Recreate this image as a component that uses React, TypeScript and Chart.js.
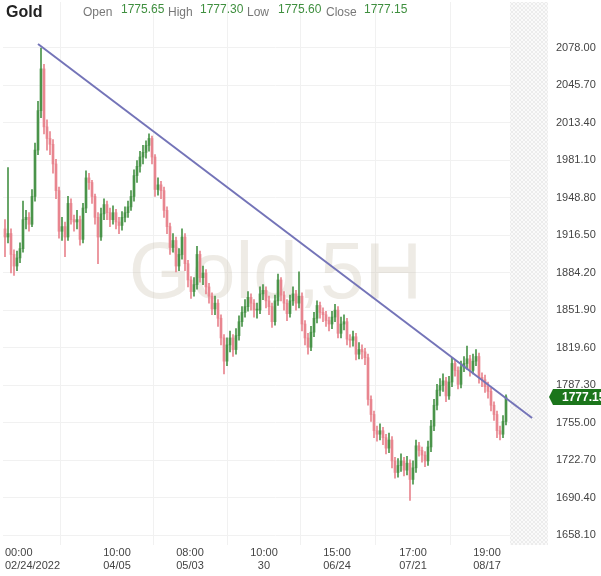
import React, { useEffect, useRef } from 'react';
import { Chart, registerables } from 'chart.js';

Chart.register(...registerables);

// ---- Data ----
const opens = [
  1922, 1915, 1918, 1900, 1890, 1897, 1905, 1930, 1932, 1926,
  1950, 1990, 2024, 2060, 2010, 2000, 1995, 1978, 1955, 1920,
  1924, 1915, 1944, 1930, 1928, 1930, 1913, 1940, 1966, 1962,
  1950, 1932, 1915, 1935, 1943, 1936, 1930, 1936, 1928, 1925,
  1932, 1936, 1941, 1950, 1968, 1976, 1984, 1988, 1994, 2000,
  1984, 1956, 1960, 1955, 1938, 1924, 1906, 1912, 1890, 1900,
  1915, 1892, 1878, 1868, 1874, 1900, 1880, 1884, 1872, 1864,
  1853, 1858, 1845, 1828, 1808, 1822, 1828, 1818, 1830, 1842,
  1850, 1855, 1863, 1858, 1852, 1852, 1866, 1869, 1860, 1855,
  1842, 1860, 1878, 1865, 1858, 1849, 1860, 1866, 1858, 1864,
  1840, 1828, 1820, 1833, 1845, 1856, 1850, 1848, 1843, 1840,
  1846, 1852, 1832, 1840, 1842, 1827, 1826, 1829, 1814, 1818,
  1816, 1811, 1775, 1762, 1748, 1745, 1748, 1742, 1733, 1740,
  1722, 1712, 1718, 1722, 1714, 1720, 1706, 1716, 1735, 1731,
  1727, 1722, 1734, 1752, 1770, 1783, 1787, 1791, 1778, 1790,
  1806, 1800, 1788, 1803, 1806, 1810, 1800, 1808, 1812, 1794,
  1792, 1786, 1782, 1770, 1762, 1748, 1745, 1756,
];
const highs = [
  1930, 1975, 1922, 1904, 1903, 1910, 1946, 1938, 1936, 1956,
  1996, 2032, 2078, 2064, 2016, 2006, 1999, 1982, 1958, 1932,
  1928, 1950, 1948, 1934, 1938, 1933, 1944, 1972, 1970, 1964,
  1952, 1936, 1940, 1948, 1946, 1940, 1942, 1939, 1932, 1937,
  1941, 1946, 1955, 1973, 1981, 1989, 1994, 1998, 2004, 2002,
  1986, 1966, 1963, 1958, 1941, 1927, 1918, 1915, 1905, 1922,
  1918, 1895, 1881, 1880, 1907, 1903, 1890, 1887, 1875, 1867,
  1864, 1861, 1848, 1831, 1828, 1834, 1831, 1836, 1847, 1855,
  1861, 1868, 1866, 1861, 1858, 1872, 1874, 1872, 1864, 1858,
  1865, 1883, 1880, 1868, 1861, 1865, 1872, 1869, 1885, 1867,
  1843, 1832, 1838, 1850, 1860, 1859, 1854, 1851, 1846, 1851,
  1857, 1855, 1846, 1848, 1845, 1831, 1834, 1832, 1824, 1822,
  1819, 1814, 1778, 1765, 1752, 1754, 1751, 1745, 1746, 1743,
  1725, 1724, 1728, 1725, 1726, 1723, 1722, 1740, 1738, 1734,
  1730, 1739, 1757, 1775, 1788, 1793, 1797, 1794, 1795, 1811,
  1809, 1803, 1808, 1812, 1821, 1813, 1814, 1818, 1815, 1798,
  1796, 1790, 1785, 1773, 1765, 1752, 1761, 1779,
];
const lows = [
  1898, 1910, 1884, 1882, 1886, 1893, 1902, 1922, 1920, 1924,
  1946, 1986, 2018, 2004, 1990, 1986, 1970, 1948, 1914, 1912,
  1898, 1912, 1926, 1920, 1922, 1908, 1910, 1936, 1956, 1944,
  1926, 1892, 1912, 1930, 1930, 1924, 1926, 1922, 1918, 1921,
  1928, 1932, 1938, 1946, 1962, 1971, 1978, 1983, 1989, 1978,
  1950, 1951, 1948, 1932, 1918, 1900, 1902, 1885, 1886, 1896,
  1886, 1872, 1862, 1864, 1870, 1876, 1874, 1866, 1858, 1848,
  1848, 1838, 1822, 1797, 1804, 1816, 1812, 1814, 1826, 1838,
  1846, 1851, 1852, 1846, 1845, 1849, 1861, 1854, 1848, 1837,
  1839, 1856, 1860, 1852, 1843, 1846, 1856, 1852, 1854, 1834,
  1822, 1814, 1817, 1829, 1841, 1845, 1842, 1838, 1834, 1836,
  1842, 1828, 1828, 1835, 1822, 1820, 1821, 1809, 1810, 1810,
  1805, 1770, 1756, 1742, 1739, 1740, 1736, 1728, 1729, 1716,
  1707, 1708, 1713, 1709, 1710, 1688, 1702, 1712, 1726, 1721,
  1717, 1718, 1730, 1748, 1766, 1778, 1782, 1773, 1775, 1786,
  1795, 1784, 1785, 1799, 1801, 1795, 1797, 1804, 1789, 1786,
  1781, 1776, 1765, 1757, 1742, 1740, 1742, 1753,
];
const closes = [
  1915, 1918, 1900, 1890, 1897, 1905, 1930, 1932, 1926, 1950,
  1990, 2024, 2060, 2010, 2000, 1995, 1978, 1955, 1920, 1924,
  1915, 1944, 1930, 1928, 1930, 1913, 1940, 1966, 1962, 1950,
  1932, 1915, 1935, 1943, 1936, 1930, 1936, 1928, 1925, 1932,
  1936, 1941, 1950, 1968, 1976, 1984, 1988, 1994, 2000, 1984,
  1956, 1960, 1955, 1938, 1924, 1906, 1912, 1890, 1900, 1915,
  1892, 1878, 1868, 1874, 1900, 1880, 1884, 1872, 1864, 1853,
  1858, 1845, 1828, 1808, 1822, 1828, 1818, 1830, 1842, 1850,
  1855, 1863, 1858, 1852, 1852, 1866, 1869, 1860, 1855, 1842,
  1860, 1878, 1865, 1858, 1849, 1860, 1866, 1858, 1864, 1840,
  1828, 1820, 1833, 1845, 1856, 1850, 1848, 1843, 1840, 1846,
  1852, 1832, 1840, 1842, 1827, 1826, 1829, 1814, 1818, 1816,
  1811, 1775, 1762, 1748, 1745, 1748, 1742, 1733, 1740, 1722,
  1712, 1718, 1722, 1714, 1720, 1706, 1716, 1735, 1731, 1727,
  1722, 1734, 1752, 1770, 1783, 1787, 1791, 1778, 1790, 1806,
  1800, 1788, 1803, 1806, 1810, 1800, 1808, 1812, 1794, 1792,
  1786, 1782, 1770, 1762, 1748, 1745, 1756, 1777.15,
];

// trend line (bar index, price)
const trendX = [11.0, 175.7];
const trendY = [2081.4, 1759.0];

// axis ticks
const yTicks = [1658.1, 1690.4, 1722.7, 1755.0, 1787.3, 1819.6, 1851.9, 1884.2, 1916.5, 1948.8, 1981.1, 2013.4, 2045.7, 2078.0];
const xTickPos = [0, 37.33, 61.67, 86.33, 110.67, 136.0, 160.67];
const xTickLabels = [
  ['00:00', '02/24/2022'],
  ['10:00', '04/05'],
  ['08:00', '05/03'],
  ['10:00', '30'],
  ['15:00', '06/24'],
  ['17:00', '07/21'],
  ['19:00', '08/17'],
];

// header
const symbol = 'Gold';
const headerLabels = ['Open', 'High', 'Low', 'Close'];
const headerValues = ['1775.65', '1777.30', '1775.60', '1777.15'];
const watermark = 'Gold,5H';
const lastPriceLabel = '1777.15';

const X_MIN = -2 / 3;
const X_MAX = X_MIN + 545 / 3;
const Y_MIN = 1649.48;
const Y_MAX = 2117.66;
const FONT = 'Arial, "Liberation Sans", sans-serif';

export default function App() {
  const ref = useRef<HTMLCanvasElement>(null);

  useEffect(() => {
    const canvas = ref.current;
    if (!canvas) return;
    const idx = closes.map((_, i) => i);
    const UP = '#4a944a';
    const DOWN = '#e8858f';
    const colors = idx.map((i) => (closes[i] >= opens[i] ? UP : DOWN));

    const tile = document.createElement('canvas');
    tile.width = 4;
    tile.height = 4;
    const tg = tile.getContext('2d')!;
    tg.fillStyle = '#fafafa';
    tg.fillRect(0, 0, 4, 4);
    tg.fillStyle = '#ececec';
    for (let k = 0; k < 4; k++) {
      tg.fillRect(k, k, 1, 1);
      tg.fillRect(3 - k, k, 1, 1);
    }

    const futureStart = closes.length + 0.33;

    const deco = {
      id: 'deco',
      beforeDatasetsDraw(chart: any) {
        const { ctx, chartArea: a, scales } = chart;
        ctx.save();
        // hatched future area
        const x0 = scales.x.getPixelForValue(futureStart);
        const pat = ctx.createPattern(tile, 'repeat');
        ctx.fillStyle = pat || '#f3f3f3';
        ctx.fillRect(x0, a.top, a.right - x0, a.bottom - a.top);
        // watermark
        ctx.font = '80px ' + FONT;
        ctx.fillStyle = 'rgba(200,190,170,0.30)';
        ctx.textAlign = 'center';
        ctx.textBaseline = 'alphabetic';
        ctx.fillText(watermark, (a.left + a.right) / 2, 298);
        ctx.restore();
      },
      afterDraw(chart: any) {
        const { ctx, scales } = chart;
        ctx.save();
        // header
        ctx.textAlign = 'left';
        ctx.textBaseline = 'alphabetic';
        ctx.font = 'bold 16px ' + FONT;
        ctx.fillStyle = '#222';
        ctx.fillText(symbol, 6, 17);
        const labelX = [83, 168, 247, 326];
        const valueX = [121, 200, 278, 364];
        headerLabels.forEach((t, i) => {
          ctx.font = '12px ' + FONT;
          ctx.fillStyle = '#777';
          ctx.fillText(t, labelX[i], 16);
          ctx.fillStyle = '#3f8f3f';
          ctx.fillText(headerValues[i], valueX[i], 13);
        });
        // last price box
        const yp = Math.round(scales.y.getPixelForValue(closes[closes.length - 1]));
        ctx.fillStyle = '#1b751b';
        ctx.beginPath();
        ctx.moveTo(549, yp);
        ctx.lineTo(553, yp - 8);
        ctx.lineTo(601, yp - 8);
        ctx.lineTo(601, yp + 8);
        ctx.lineTo(553, yp + 8);
        ctx.closePath();
        ctx.fill();
        ctx.font = 'bold 12px ' + FONT;
        ctx.fillStyle = '#ffffff';
        ctx.textBaseline = 'middle';
        ctx.fillText(lastPriceLabel, 562, yp + 1);
        ctx.restore();
      },
    };

    const chart = new Chart(canvas, {
      type: 'bar',
      data: {
        datasets: [
          {
            type: 'line',
            data: trendX.map((x, i) => ({ x, y: trendY[i] })),
            borderColor: '#7474b8',
            borderWidth: 2,
            pointRadius: 0,
            fill: false,
            tension: 0,
            order: 0,
          } as any,
          {
            type: 'bar',
            data: idx.map((i) => ({ x: i, y: [opens[i], closes[i]] })),
            backgroundColor: colors,
            barThickness: 2,
            grouped: false,
            minBarLength: 1,
            borderWidth: 0,
            order: 1,
          } as any,
          {
            type: 'bar',
            data: idx.map((i) => ({ x: i, y: [lows[i], highs[i]] })),
            backgroundColor: colors,
            barThickness: 1,
            grouped: false,
            borderWidth: 0,
            order: 2,
          } as any,
        ],
      },
      options: {
        responsive: false,
        animation: false,
        devicePixelRatio: 1,
        layout: { padding: { top: 2, left: 3, right: 0, bottom: 0 } },
        plugins: { legend: { display: false }, tooltip: { enabled: false } },
        scales: {
          x: {
            type: 'linear',
            min: X_MIN,
            max: X_MAX,
            offset: false,
            afterBuildTicks: (s: any) => {
              s.ticks = [...xTickPos, X_MAX].map((v) => ({ value: v }));
            },
            afterFit: (s: any) => {
              s.height = 31;
              s.paddingLeft = 0;
              s.paddingRight = 0;
            },
            ticks: {
              autoSkip: false,
              maxRotation: 0,
              align: 'inner',
              padding: 2,
              color: '#444',
              font: { family: FONT, size: 11, lineHeight: 1.15 },
              callback: (_v: any, i: number) => xTickLabels[i] || '',
            },
            grid: {
              drawTicks: false,
              color: (c: any) => (c.index >= xTickPos.length ? 'rgba(0,0,0,0)' : '#f1f1f1'),
            },
            border: { display: false },
          },
          y: {
            position: 'right',
            min: Y_MIN,
            max: Y_MAX,
            afterBuildTicks: (s: any) => {
              s.ticks = yTicks.map((v) => ({ value: v }));
            },
            afterFit: (s: any) => {
              s.width = 53;
              s.paddingTop = 0;
              s.paddingBottom = 0;
            },
            ticks: {
              padding: 8,
              color: '#444',
              font: { family: FONT, size: 11 },
              callback: (v: any) => Number(v).toFixed(2),
            },
            grid: { drawTicks: false, color: '#f1f1f1' },
            border: { display: false },
          },
        },
      } as any,
      plugins: [deco],
    });

    return () => chart.destroy();
  }, []);

  return (
    <div style={{ position: 'fixed', left: 0, top: 0, width: 601, height: 576, background: '#fff' }}>
      <canvas ref={ref} width={601} height={576} style={{ display: 'block', width: 601, height: 576 }} />
    </div>
  );
}
